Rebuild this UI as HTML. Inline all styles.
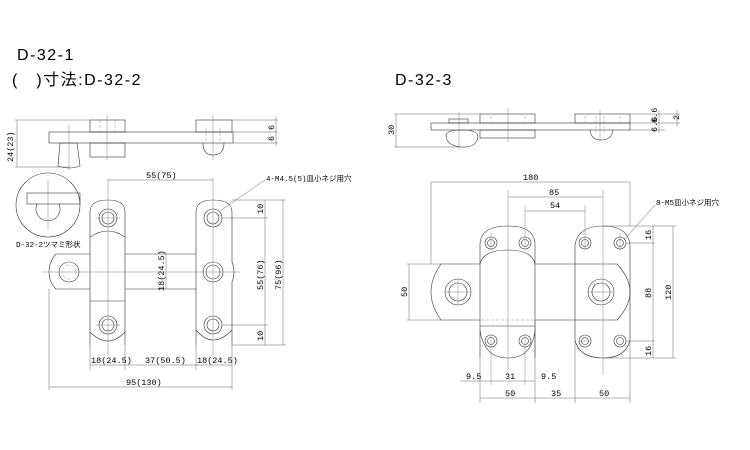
<!DOCTYPE html>
<html><head><meta charset="utf-8"><style>
html,body{margin:0;padding:0;background:#fff;}
svg{display:block;}
text{font-family:"Liberation Mono","Noto Sans CJK JP",monospace;fill:#000;}
.ti{font-family:"Liberation Sans","Noto Sans CJK JP",sans-serif;font-size:16px;letter-spacing:1.5px;}
.t{font-size:8.5px;}
.o{fill:none;stroke:#333;stroke-width:0.6;}
.d{fill:none;stroke:#555;stroke-width:0.45;}
.c{fill:none;stroke:#777;stroke-width:0.45;}
.h{fill:none;stroke:#888;stroke-width:0.45;stroke-dasharray:3,2;}
</style></head><body>
<svg width="750" height="450" viewBox="0 0 750 450" xmlns="http://www.w3.org/2000/svg">
<rect width="750" height="450" fill="#fff"/>
<text class="ti" x="17" y="60">D-32-1</text>
<text class="ti" x="12" y="85">(　)寸法:D-32-2</text>
<text class="ti" x="395" y="85">D-32-3</text>

<!-- LEFT side view -->
<rect class="o" x="49" y="132" width="184" height="11"/>
<rect class="o" x="90" y="120" width="35" height="12"/>
<rect class="o" x="90" y="143" width="35" height="14"/>
<rect class="o" x="196" y="120" width="36" height="12"/>
<path class="o" d="M58 166 L60 143 H77 L80 166 Q69 170 58 166Z"/>
<path class="o" d="M203 143 Q203 155 213 155 Q224 155 224 143"/>
<line class="c" x1="69" y1="125" x2="69" y2="170"/>
<line class="c" x1="107" y1="115" x2="107" y2="160"/>
<line class="c" x1="213" y1="115" x2="213" y2="160"/>
<line class="h" x1="100" y1="120" x2="100" y2="132"/><line class="h" x1="115" y1="120" x2="115" y2="132"/>
<line class="h" x1="206" y1="128" x2="206" y2="143"/><line class="h" x1="220" y1="128" x2="220" y2="143"/>
<line class="d" x1="15" y1="120" x2="90" y2="120"/><line class="d" x1="15" y1="167" x2="70" y2="167"/>
<line class="d" x1="17" y1="120" x2="17" y2="167"/>
<text class="t" transform="translate(13,162) rotate(-90)">24(23)</text>
<line class="d" x1="232" y1="120" x2="278" y2="120"/><line class="d" x1="233" y1="132" x2="278" y2="132"/><line class="d" x1="233" y1="143" x2="278" y2="143"/>
<line class="d" x1="276" y1="117" x2="276" y2="146"/>
<text class="t" transform="translate(274,130) rotate(-90)">6</text>
<text class="t" transform="translate(274,141) rotate(-90)">6</text>

<!-- knob circle -->
<circle class="o" cx="48" cy="205" r="32"/>
<rect class="o" x="27" y="193" width="53" height="11"/>
<path class="o" d="M37 204 A12 12 0 1 0 59 204"/>
<line class="c" x1="48" y1="180" x2="48" y2="230"/>
<text x="16" y="247" font-size="7.5">D-32-2ツマミ形状</text>

<!-- LEFT plan -->
<path class="o" d="M90 345 V212 Q90 200 108 200 Q125 200 125 212 V345"/>
<path class="o" d="M90 237 Q108 225 125 237"/>
<path class="o" d="M90 332 Q108 350 125 332"/>
<line class="o" x1="90" y1="301" x2="125" y2="301"/>
<path class="o" d="M125 254 H196 M125 289 H196"/>
<path class="o" d="M90 254 H56 Q49 262 49 272 Q49 282 56 289 H90"/>
<path class="o" d="M196 345 V212 Q196 200 213 200 Q232 200 232 212 V262 Q236 272 232 282 V345"/>
<path class="o" d="M196 330 Q213 350 232 330"/>
<line class="h" x1="90" y1="254" x2="90" y2="289"/><line class="h" x1="125" y1="254" x2="125" y2="289"/>
<line class="h" x1="196" y1="254" x2="196" y2="289"/>
<g>
<circle class="o" cx="108" cy="218" r="9"/><circle class="o" cx="108" cy="218" r="6"/>
<circle class="o" cx="108" cy="325" r="9"/><circle class="o" cx="108" cy="325" r="6"/>
<circle class="o" cx="213" cy="218" r="9"/><circle class="o" cx="213" cy="218" r="6"/>
<circle class="o" cx="213" cy="325" r="9"/><circle class="o" cx="213" cy="325" r="6"/>
<circle class="o" cx="213" cy="272" r="10"/><circle class="o" cx="213" cy="272" r="7"/>
<circle class="o" cx="69" cy="272" r="10"/><circle class="h" cx="69" cy="272" r="7"/>
</g>
<line class="c" x1="108" y1="178" x2="108" y2="355"/>
<line class="c" x1="213" y1="178" x2="213" y2="355"/>
<line class="c" x1="42" y1="272" x2="240" y2="272"/>
<line class="c" x1="96" y1="218" x2="120" y2="218"/><line class="c" x1="96" y1="325" x2="120" y2="325"/>
<!-- dims -->
<line class="d" x1="108" y1="180" x2="213" y2="180"/><text class="t" x="146" y="178">55(75)</text>
<line class="d" x1="166" y1="254" x2="166" y2="289"/><text class="t" transform="translate(164,291) rotate(-90)">18(24.5)</text>
<line class="d" x1="222" y1="218" x2="268" y2="218"/><line class="d" x1="222" y1="325" x2="268" y2="325"/>
<line class="d" x1="232" y1="200" x2="286" y2="200"/><line class="d" x1="232" y1="345" x2="286" y2="345"/>
<line class="d" x1="265" y1="200" x2="265" y2="345"/><line class="d" x1="283" y1="200" x2="283" y2="345"/>
<text class="t" transform="translate(263,214) rotate(-90)">10</text>
<text class="t" transform="translate(263,290) rotate(-90)">55(76)</text>
<text class="t" transform="translate(281,290) rotate(-90)">75(96)</text>
<text class="t" transform="translate(263,341) rotate(-90)">10</text>
<line class="d" x1="90" y1="345" x2="90" y2="370"/><line class="d" x1="125" y1="345" x2="125" y2="370"/>
<line class="d" x1="196" y1="345" x2="196" y2="370"/><line class="d" x1="232" y1="345" x2="232" y2="390"/>
<line class="d" x1="49" y1="289" x2="49" y2="390"/>
<line class="d" x1="90" y1="365" x2="232" y2="365"/>
<text class="t" x="91" y="363">18(24.5)</text><text class="t" x="145" y="363">37(50.5)</text><text class="t" x="197" y="363">18(24.5)</text>
<line class="d" x1="49" y1="387" x2="232" y2="387"/><text class="t" x="126" y="385">95(130)</text>
<line class="d" x1="220" y1="211" x2="265" y2="180"/>
<text x="266" y="181" font-size="7.5">4-M4.5(5)皿小ネジ用穴</text>

<!-- RIGHT side view -->
<rect class="o" x="431" y="123" width="199" height="7"/>
<rect class="o" x="480" y="114" width="55" height="9"/>
<rect class="o" x="480" y="130" width="55" height="8"/>
<rect class="o" x="575" y="114" width="55" height="9"/>
<rect class="o" x="449" y="119" width="19" height="4"/>
<path class="o" d="M446 135 Q447 130 462 130 Q478 130 478 137 Q476 148 462 147 Q446 146 446 135Z"/>
<path class="o" d="M590 130 Q591 140 601 140 Q612 140 613 130"/>
<line class="c" x1="508" y1="108" x2="508" y2="142"/><line class="c" x1="600" y1="110" x2="600" y2="142"/>
<line class="c" x1="459" y1="112" x2="459" y2="150"/>
<line class="h" x1="491" y1="116" x2="491" y2="123"/><line class="h" x1="525" y1="116" x2="525" y2="123"/>
<line class="h" x1="585" y1="116" x2="585" y2="123"/><line class="h" x1="620" y1="116" x2="620" y2="123"/>
<line class="h" x1="596" y1="116" x2="596" y2="133"/><line class="h" x1="604" y1="116" x2="604" y2="133"/>
<line class="d" x1="394" y1="114" x2="480" y2="114"/><line class="d" x1="394" y1="147" x2="462" y2="147"/>
<line class="d" x1="396" y1="114" x2="396" y2="147"/>
<text class="t" transform="translate(394,135) rotate(-90)">30</text>
<line class="d" x1="630" y1="114" x2="680" y2="114"/><line class="d" x1="630" y1="123" x2="680" y2="123"/><line class="d" x1="630" y1="130" x2="665" y2="130"/>
<line class="d" x1="659" y1="110" x2="659" y2="133"/><line class="d" x1="677" y1="110" x2="677" y2="127"/>
<text class="t" transform="translate(657,123) rotate(-90)">6.6</text>
<text class="t" transform="translate(657,132) rotate(-90)">6.6</text>
<text class="t" transform="translate(679,120) rotate(-90)">2</text>

<!-- RIGHT plan -->
<path class="o" d="M480 358 V245 Q480 226 508 226 Q535 226 535 245 V358"/>
<path class="o" d="M480 264 Q483 250 508 250 Q532 250 535 264"/>
<path class="o" d="M480 330 Q484 358 508 358 Q532 358 535 330"/>
<line class="o" x1="480" y1="326" x2="535" y2="326"/>
<path class="o" d="M480 264 H441 Q431 278 431 292 Q431 306 441 320 H480"/>
<path class="o" d="M535 264 H575 M535 320 H575"/>
<path class="o" d="M575 340 V245 Q578 226 603 226 Q628 226 630 245 V340 Q626 358 603 358 Q579 358 575 340Z"/>
<path class="o" d="M575 264 H617 Q630 278 630 292 Q630 306 617 320 H575"/>
<line class="h" x1="480" y1="264" x2="480" y2="320"/><line class="h" x1="535" y1="264" x2="535" y2="320"/>
<line class="h" x1="575" y1="264" x2="575" y2="320"/><line class="h" x1="481" y1="320" x2="534" y2="320"/>
<g>
<circle class="o" cx="491" cy="243" r="6"/><circle class="o" cx="491" cy="243" r="3.5"/>
<circle class="o" cx="525" cy="243" r="6"/><circle class="o" cx="525" cy="243" r="3.5"/>
<circle class="o" cx="585" cy="243" r="6"/><circle class="o" cx="585" cy="243" r="3.5"/>
<circle class="o" cx="620" cy="243" r="6"/><circle class="o" cx="620" cy="243" r="3.5"/>
<circle class="o" cx="491" cy="341" r="6"/><circle class="o" cx="491" cy="341" r="3.5"/>
<circle class="o" cx="525" cy="341" r="6"/><circle class="o" cx="525" cy="341" r="3.5"/>
<circle class="o" cx="585" cy="341" r="6"/><circle class="o" cx="585" cy="341" r="3.5"/>
<circle class="o" cx="620" cy="341" r="6"/><circle class="o" cx="620" cy="341" r="3.5"/>
<circle class="o" cx="458" cy="292" r="13"/><circle class="o" cx="458" cy="292" r="9"/>
<circle class="o" cx="601" cy="292" r="13"/><circle class="o" cx="601" cy="292" r="9"/>
</g>
<line class="c" x1="445" y1="292" x2="471" y2="292"/><line class="c" x1="458" y1="279" x2="458" y2="305"/>
<line class="c" x1="588" y1="292" x2="614" y2="292"/>
<line class="c" x1="508" y1="190" x2="508" y2="375"/><line class="c" x1="603" y1="190" x2="603" y2="375"/>
<line class="c" x1="491" y1="233" x2="491" y2="250"/><line class="c" x1="525" y1="205" x2="525" y2="250"/>
<line class="c" x1="585" y1="205" x2="585" y2="250"/><line class="c" x1="620" y1="233" x2="620" y2="250"/>
<line class="c" x1="491" y1="334" x2="491" y2="385"/><line class="c" x1="525" y1="334" x2="525" y2="385"/>
<line class="c" x1="580" y1="341" x2="590" y2="341"/>
<!-- dims -->
<line class="d" x1="431" y1="182" x2="431" y2="264"/><line class="d" x1="630" y1="182" x2="630" y2="226"/>
<line class="d" x1="431" y1="182" x2="630" y2="182"/><text class="t" x="523" y="180">180</text>
<line class="d" x1="508" y1="197" x2="603" y2="197"/><text class="t" x="549" y="195">85</text>
<line class="d" x1="525" y1="211" x2="585" y2="211"/><text class="t" x="550" y="208">54</text>
<line class="d" x1="624" y1="240" x2="655" y2="205"/>
<text x="656" y="205" font-size="7.5">8-M5皿小ネジ用穴</text>
<line class="d" x1="603" y1="226" x2="676" y2="226"/><line class="d" x1="626" y1="243" x2="655" y2="243"/>
<line class="d" x1="626" y1="341" x2="655" y2="341"/><line class="d" x1="603" y1="358" x2="676" y2="358"/>
<line class="d" x1="653" y1="226" x2="653" y2="358"/><line class="d" x1="673" y1="226" x2="673" y2="358"/>
<text class="t" transform="translate(651,240) rotate(-90)">16</text>
<text class="t" transform="translate(651,298) rotate(-90)">88</text>
<text class="t" transform="translate(671,300) rotate(-90)">120</text>
<text class="t" transform="translate(651,356) rotate(-90)">16</text>
<line class="d" x1="407" y1="264" x2="441" y2="264"/><line class="d" x1="407" y1="320" x2="441" y2="320"/>
<line class="d" x1="409" y1="264" x2="409" y2="320"/>
<text class="t" transform="translate(407,297) rotate(-90)">50</text>
<line class="d" x1="480" y1="358" x2="480" y2="403"/><line class="d" x1="535" y1="320" x2="535" y2="403"/>
<line class="d" x1="575" y1="340" x2="575" y2="403"/><line class="d" x1="630" y1="340" x2="630" y2="403"/>
<line class="d" x1="460" y1="381" x2="535" y2="381"/>
<text class="t" x="466" y="379">9.5</text><text class="t" x="505" y="379">31</text><text class="t" x="541" y="379">9.5</text>
<line class="d" x1="480" y1="398" x2="630" y2="398"/>
<text class="t" x="505" y="396">50</text><text class="t" x="551" y="396">35</text><text class="t" x="599" y="396">50</text>
</svg>
</body></html>
